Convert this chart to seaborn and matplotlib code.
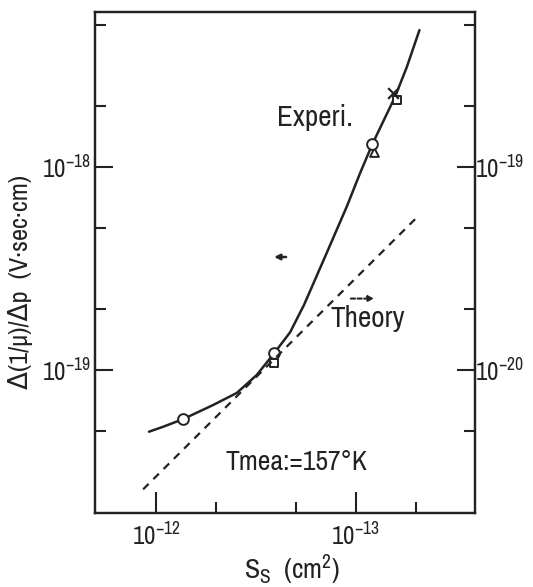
import matplotlib
matplotlib.use("Agg")
import matplotlib.pyplot as plt
from matplotlib import font_manager
import seaborn as sns

# Experimental curve (left axis): S_s (cm^2) vs delta(1/mu)/delta p (V.sec.cm)
exp_s = [1.084e-12, 9.19e-13, 7.30e-13, 5.16e-13, 3.94e-13, 3.13e-13, 2.565e-13, 2.13e-13,
         1.815e-13, 1.40e-13, 1.11e-13, 9.52e-14, 8.26e-14, 6.35e-14, 5.55e-14, 4.80e-14]
exp_v = [4.98e-20, 5.27e-20, 5.75e-20, 6.75e-20, 7.73e-20, 9.48e-20, 1.21e-19, 1.54e-19,
         2.10e-19, 3.77e-19, 6.39e-19, 9.34e-19, 1.30e-18, 2.23e-18, 3.12e-18, 4.74e-18]

# Measured points
circ_s = [7.30e-13, 2.565e-13, 8.26e-14]
circ_v = [5.75e-20, 1.21e-19, 1.30e-18]
sq_s = [2.56e-13, 6.19e-14]
sq_v = [1.09e-19, 2.15e-18]
tri_s = [8.07e-14]
tri_v = [1.19e-18]
x_s = [6.48e-14]
x_v = [2.31e-18]

# Theory line (right axis)
theo_s = [1.16e-12, 4.99e-14]
theo_v = [2.59e-21, 5.61e-20]

xticks_major = [1e-12, 1e-13]
xticklabels = ["$10^{-12}$", "$10^{-13}$"]
yticks_left = [1e-19, 1e-18]
yticklabels_left = ["$10^{-19}$", "$10^{-18}$"]
yticks_right = [1e-20, 1e-19]
yticklabels_right = ["$10^{-20}$", "$10^{-19}$"]

sns.set_style("ticks")

# pick a narrow font if one is installed, else Roboto
fam, stretch = "Roboto", "normal"
cands = []
for f in font_manager.fontManager.ttflist:
    if f.style != "normal" or f.weight not in (400, "normal", "regular"):
        continue
    nm = f.name
    st = str(f.stretch)
    if "Narrow" in nm or "Condensed" in nm:
        cands.append((0, nm, "normal"))
    try:
        sv = int(f.stretch)
    except Exception:
        sv = {"condensed": 300, "semi-condensed": 400, "extra-condensed": 200}.get(st, 500)
    if sv < 500 and "Mono" not in nm and "Serif" not in nm:
        cands.append((1, nm, "condensed" if sv <= 300 else "semi-condensed"))
cands.sort()
if cands:
    _, fam, stretch = cands[0]

plt.rcParams['font.family'] = [fam, 'DejaVu Sans']
plt.rcParams['font.stretch'] = stretch
plt.rcParams['mathtext.fontset'] = 'custom'
plt.rcParams['mathtext.rm'] = f"{fam}:stretch={stretch}"
plt.rcParams['mathtext.it'] = f"{fam}:stretch={stretch}"
plt.rcParams['mathtext.default'] = 'rm'

ink = "#222222"
fig = plt.figure(figsize=(5.33, 5.87), dpi=100)
ax = fig.add_axes([95 / 533, 1 - 513 / 587, 380 / 533, 501 / 587])

sns.lineplot(x=exp_s, y=exp_v, ax=ax, color=ink, lw=1.8, sort=False, estimator=None)
sns.scatterplot(x=circ_s, y=circ_v, ax=ax, marker="o", s=60, facecolor="white", edgecolor=ink, linewidth=1.4, zorder=5)
sns.scatterplot(x=sq_s, y=sq_v, ax=ax, marker="s", s=30, facecolor="white", edgecolor=ink, linewidth=1.4, zorder=4)
sns.scatterplot(x=tri_s, y=tri_v, ax=ax, marker="^", s=40, facecolor="white", edgecolor=ink, linewidth=1.4, zorder=4)
sns.scatterplot(x=x_s, y=x_v, ax=ax, marker="x", s=60, color=ink, linewidth=1.6, zorder=4)

ax.set_xscale("log")
ax.set_yscale("log")
ax.set_xlim(2.02e-12, 2.53e-14)
ax.set_ylim(1.98e-20, 5.82e-18)

ax2 = ax.twinx()
ax2.set_yscale("log")
ax2.set_ylim(1.98e-21, 5.82e-19)
sns.lineplot(x=theo_s, y=theo_v, ax=ax2, color=ink, lw=1.6, linestyle=(0, (3.5, 3)), sort=False, estimator=None)
ax2.set_xlim(2.02e-12, 2.53e-14)

for a in (ax, ax2):
    for sp in a.spines.values():
        sp.set_linewidth(1.6)
        sp.set_color(ink)
        sp.set_visible(True)

ax.set_xticks(xticks_major)
ax.set_xticklabels(xticklabels, fontsize=18)
ax.set_xticks([5e-13, 2e-13, 5e-14], minor=True)
ax.set_xticklabels([], minor=True)
ax.set_yticks(yticks_left)
ax.set_yticklabels(yticklabels_left, fontsize=18)
ax.set_yticks([5e-18, 2e-18, 5e-19, 2e-19, 5e-20], minor=True)
ax.set_yticklabels([], minor=True)
ax2.set_yticks(yticks_right)
ax2.set_yticklabels(yticklabels_right, fontsize=18)
ax2.set_yticks([5e-19, 2e-19, 5e-20, 2e-20, 5e-21], minor=True)
ax2.set_yticklabels([], minor=True)

ax.tick_params(axis="y", which="major", direction="in", length=13, width=1.5, color=ink, pad=3, labelcolor=ink)
ax.tick_params(axis="y", which="minor", direction="in", length=8, width=1.5, color=ink)
ax.tick_params(axis="x", which="major", direction="in", length=15, width=1.5, color=ink, pad=7, labelcolor=ink)
ax.tick_params(axis="x", which="minor", direction="in", length=8, width=1.5, color=ink)
ax2.tick_params(axis="y", which="major", direction="in", length=13, width=1.5, color=ink, pad=0, labelcolor=ink)
ax2.tick_params(axis="y", which="minor", direction="in", length=8, width=1.5, color=ink)

ax.set_xlabel("S$_\\mathrm{S}$  (cm$^2$)", fontsize=20, color=ink)
ax.xaxis.set_label_coords(0.518, -0.08)
ax.set_ylabel("Δ(1/μ)/Δp  (V·sec·cm)", fontsize=19, color=ink)
ax.yaxis.set_label_coords(-0.163, 0.461)
ax2.set_ylabel("")

ax.text(0.579, 0.79, "Experi.", transform=ax.transAxes, fontsize=21, color=ink, ha="center", va="center")
ax.text(0.718, 0.389, "Theory", transform=ax.transAxes, fontsize=21, color=ink, ha="center", va="center")
ax.text(0.529, 0.10, "Tmea:=157°K", transform=ax.transAxes, fontsize=20, color=ink, ha="center", va="center")
ax.annotate("", xy=(0.464, 0.511), xytext=(0.51, 0.511), xycoords="axes fraction",
            arrowprops=dict(arrowstyle="-|>", color=ink, lw=1.8, mutation_scale=8))
ax.annotate("", xy=(0.742, 0.428), xytext=(0.666, 0.428), xycoords="axes fraction",
            arrowprops=dict(arrowstyle="-|>", color=ink, lw=1.5, linestyle=(0, (2, 1.2)), mutation_scale=8))

fig.savefig("out.png", dpi=100)
